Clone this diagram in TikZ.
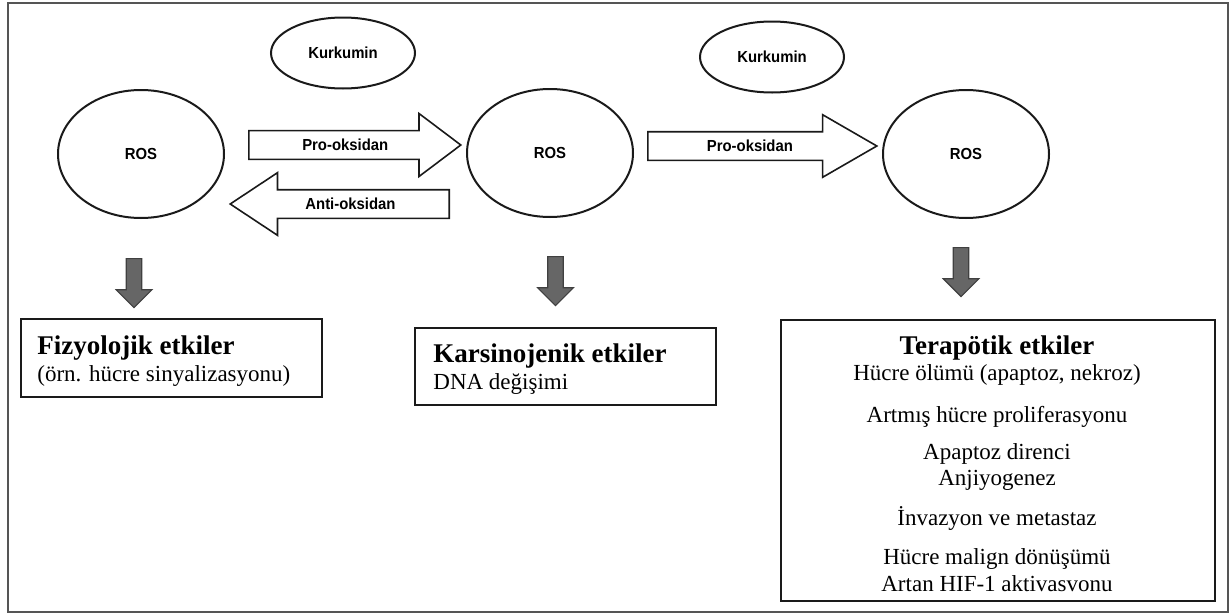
\documentclass[tikz,border=0pt]{standalone}
\usepackage{fontspec}
\setmainfont{Liberation Serif}
\newfontfamily\arialn{Liberation Sans}[FakeStretch=0.93]
\usetikzlibrary{shapes.geometric,shapes.arrows}
\definecolor{framegray}{HTML}{555555}
\definecolor{arrowgray}{HTML}{666666}
\definecolor{inkblack}{HTML}{1A1A1A}

\tikzset{
  rosnode/.style={ellipse,draw=inkblack,line width=1pt,inner sep=0pt,minimum width=83pt,minimum height=64pt,
    font=\arialn\bfseries\fontsize{8}{9}\selectfont},
  kurknode/.style={rosnode,minimum width=72pt,minimum height=35.5pt},
  blockarrow/.style={single arrow,draw=inkblack,line width=0.8pt,fill=white,inner xsep=0pt,inner ysep=0pt,
    text height=9.6pt,text depth=3.9pt,single arrow head extend=8.5pt,anchor=tail,
    font=\arialn\bfseries\fontsize{8}{9}\selectfont},
  downarrow/.style={single arrow,draw=black!75,fill=arrowgray,line width=0.6pt,inner sep=3.6pt,
    minimum width=17.5pt,minimum height=24.5pt,single arrow head extend=5pt,single arrow tip angle=90,
    shape border rotate=270,anchor=tail},
  effbox/.style={draw=inkblack,line width=1pt,anchor=north west,inner sep=0pt},
  titletext/.style={font=\bfseries\fontsize{13.5}{16}\selectfont,inner sep=0pt},
  bodytext/.style={font=\fontsize{11.5}{13}\selectfont,inner sep=0pt}
}

\begin{document}
\begin{tikzpicture}[x=0.5pt,y=-0.5pt]
  \useasboundingbox (0,0) rectangle (1232,616);
  \draw[framegray,line width=1pt] (8,3) rectangle (1228,612);

  % ellipses
  \node[kurknode] (kurk1) at (343,53) {Kurkumin};
  \node[kurknode] (kurk2) at (772,57) {Kurkumin};
  \node[rosnode] (ros1) at (141,154) {ROS};
  \node[rosnode] (ros2) at (550,153) {ROS};
  \node[rosnode] (ros3) at (966,154) {ROS};

  % block arrows
  \node[blockarrow,minimum height=106pt,minimum width=31.5pt,single arrow tip angle=74] (pro1) at (248,145) {Pro-oksidan};
  \node[blockarrow,shape border rotate=180,minimum height=109.5pt,minimum width=30.5pt,single arrow tip angle=67] (anti) at (450,204) {Anti-oksidan};
  \node[blockarrow,minimum height=114.5pt,minimum width=29.5pt,single arrow tip angle=60] (pro2) at (647,146) {Pro-oksidan};

  % down arrows
  \node[downarrow] (down1) at (134,258) {};
  \node[downarrow] (down2) at (555.5,256) {};
  \node[downarrow] (down3) at (961,247) {};

  % effect boxes
  \node[effbox,minimum width=150.5pt,minimum height=39pt] (fizbox) at (20,318) {};
  \node[effbox,minimum width=150.5pt,minimum height=38.5pt] (karbox) at (414,327) {};
  \node[effbox,minimum width=217pt,minimum height=140.5pt] (terbox) at (780,319) {};

  \node[titletext,anchor=base west] (fiztitle) at (37,354) {Fizyolojik etkiler};
  \node[bodytext,anchor=base west] (fizsub) at (37,381) {(örn. hücre sinyalizasyonu)};
  \node[titletext,anchor=base west] (kartitle) at (433,362) {Karsinojenik etkiler};
  \node[bodytext,anchor=base west] (karsub) at (433,389) {DNA değişimi};
  \node[titletext,anchor=base] (tertitle) at (997,354) {Terapötik etkiler};
  \foreach \yy/\txt [count=\i] in {380/{Hücre ölümü (apaptoz, nekroz)},422/{Artmış hücre proliferasyonu},
      459/{Apaptoz direnci},485/{Anjiyogenez},525/{İnvazyon ve metastaz},
      564/{Hücre malign dönüşümü},591/{Artan HIF-1 aktivasvonu}}
    \node[bodytext,anchor=base] (terline\i) at (997,\yy) {\txt};
\end{tikzpicture}
\end{document}
